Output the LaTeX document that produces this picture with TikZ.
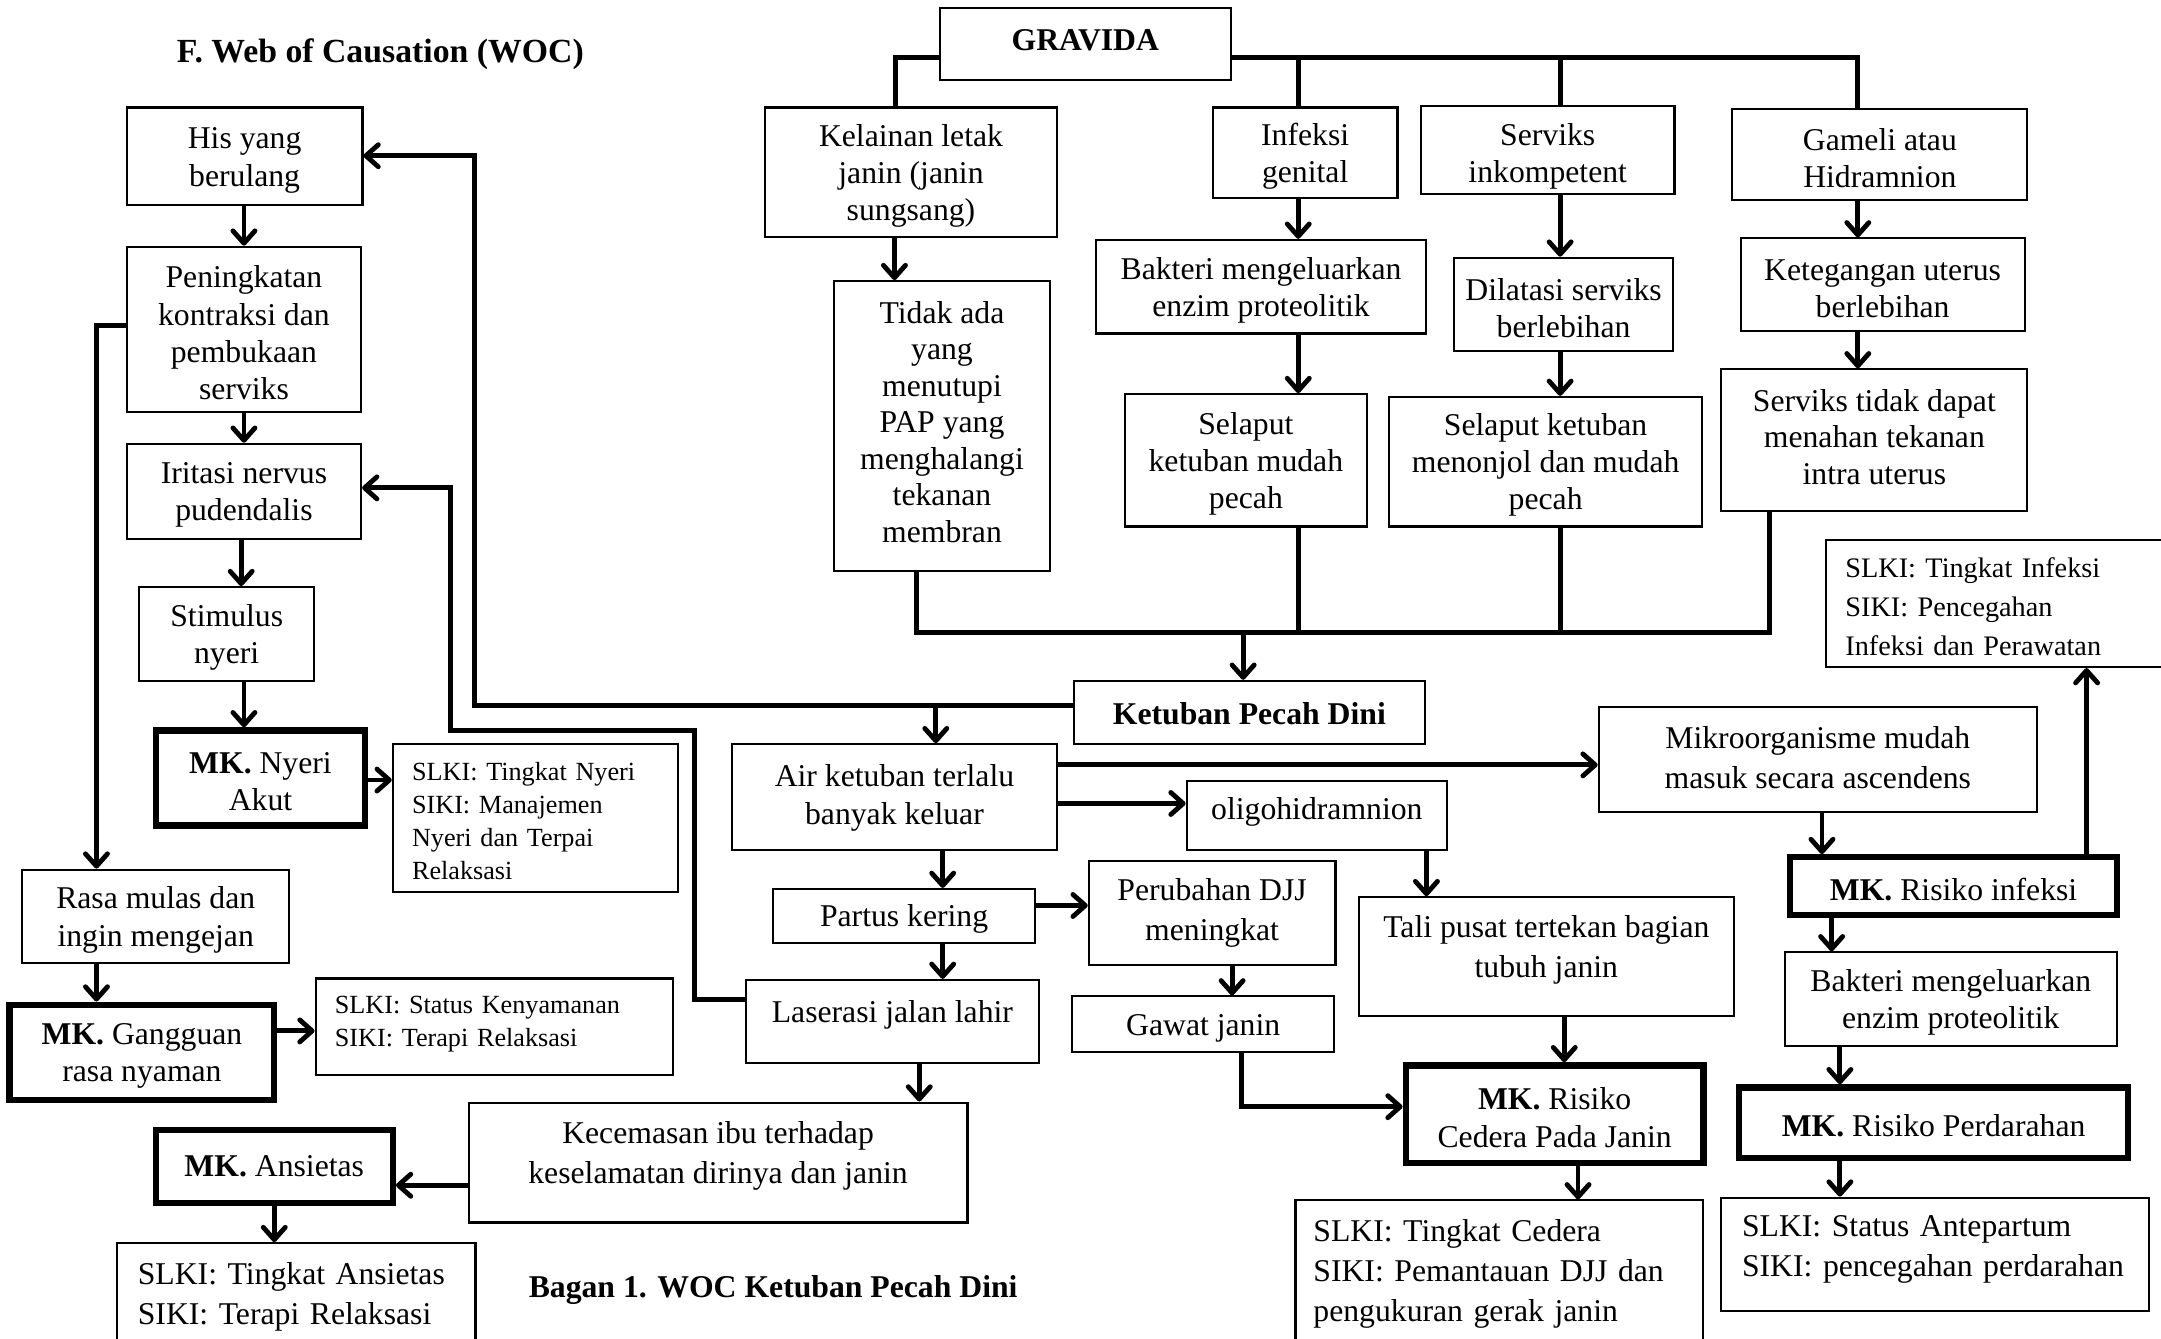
\documentclass[tikz,border=0pt]{standalone}
\usepackage{fontspec}
\setmainfont{Liberation Serif}
\usetikzlibrary{arrows.meta}
\newcommand{\wocbox}[7]{%
 \pgfmathsetmacro\wbw{#5-#3}%
 \pgfmathsetmacro\wbh{#6-#4}%
 \pgfmathsetmacro\wbx{(#3+#5)/2}%
 \pgfmathsetmacro\wby{(#4+#6)/2}%
 \node[#1,minimum width=\wbw pt,minimum height=\wbh pt] (#2) at (\wbx,\wby) {\rule{0pt}{0.91em}#7};}
\begin{document}
\begin{tikzpicture}[x=1pt,y=-1pt,
 box/.style={draw,line width=1.5pt,inner sep=2pt,align=center,font=\fontsize{23}{27}\selectfont,
   execute at begin node={\rule{0pt}{0.91em}}},
 tbox/.style={box,line width=4.6pt},
 lbox/.style={box,align=left},
 ln/.style={line width=3.5pt},
 arr/.style={line width=3.5pt,-{Straight Barb[length=9pt,width=16pt,round]}},
 ttl/.style={font=\fontsize{24.5}{28}\selectfont\bfseries,inner sep=0pt}]
\useasboundingbox (0,0) rectangle (1568,971);
\node[ttl] (title) at (276,39) {F. Web of Causation (WOC)};
\node[ttl,font=\fontsize{23}{27}\selectfont\bfseries] (bagan) at (561,936) {Bagan 1. WOC Ketuban Pecah Dini};
% top part
\wocbox{box}{grav}{682}{6}{893}{58}{\textbf{GRAVIDA}\rule[-11pt]{0pt}{11pt}}
\wocbox{box}{kel}{555}{78}{767}{172}{Kelainan letak\\janin (janin\\sungsang)}
\wocbox{box,font=\fontsize{23}{26.5}\selectfont}{tidak}{605}{204}{762}{414}{Tidak ada\\yang\\menutupi\\PAP yang\\menghalangi\\tekanan\\membran\rule[-11pt]{0pt}{11pt}}
\wocbox{box}{inf}{880}{78}{1014}{144}{Infeksi\\genital}
\wocbox{box}{bak1}{795}{174}{1035}{242}{Bakteri mengeluarkan\\enzim proteolitik}
\wocbox{box}{sel1}{816}{286}{992}{382}{Selaput\\ketuban mudah\\pecah}
\wocbox{box}{ser}{1031}{77}{1215}{141}{\rule{0pt}{25pt}Serviks\\inkompetent}
\wocbox{box}{dil}{1055}{187}{1214}{255}{Dilatasi serviks\\berlebihan}
\wocbox{box}{sel2}{1008}{288}{1235}{382}{Selaput ketuban\\menonjol dan mudah\\pecah}
\wocbox{box}{gam}{1257}{79}{1471}{145}{Gameli atau\\Hidramnion}
\wocbox{box}{keg}{1263}{173}{1469}{240}{Ketegangan uterus\\berlebihan}
\wocbox{box,font=\fontsize{23}{26.5}\selectfont}{stdk}{1249}{268}{1471}{371}{Serviks tidak dapat\\menahan tekanan\\intra uterus\rule[-10pt]{0pt}{10pt}}
\wocbox{lbox,font=\fontsize{20.5}{28.5}\selectfont,inner xsep=14pt,text width=232pt}{sinf}{1325}{392}{1585}{484}{SLKI: Tingkat Infeksi\\SIKI: Pencegahan\\Infeksi dan Perawatan}
\wocbox{box}{kpd}{779}{494}{1034}{540}{\textbf{Ketuban Pecah Dini}\rule[-4pt]{0pt}{4pt}}
% left column
\wocbox{box}{his}{92}{78}{263}{149}{His yang\\berulang}
\wocbox{box}{pen}{92}{179}{262}{299}{Peningkatan\\kontraksi dan\\pembukaan\\serviks}
\wocbox{box}{iri}{92}{322}{262}{391}{Iritasi nervus\\pudendalis}
\wocbox{box}{sti}{101}{426}{228}{494}{Stimulus\\nyeri}
\wocbox{tbox}{mkn}{113}{530}{265}{599}{\textbf{MK.} Nyeri\\Akut}
\wocbox{lbox,font=\fontsize{19}{24}\selectfont,inner xsep=14pt,text width=179pt}{sn}{285}{540}{492}{647}{SLKI: Tingkat Nyeri\\SIKI: Manajemen\\Nyeri dan Terpai\\Relaksasi}
\wocbox{box}{ras}{16}{631}{210}{699}{Rasa mulas dan\\ingin mengejan}
\wocbox{tbox}{mkg}{7}{729}{199}{798}{\textbf{MK.} Gangguan\\rasa nyaman}
\wocbox{lbox,font=\fontsize{19}{24}\selectfont,inner xsep=14pt,text width=231pt}{sk}{229}{710}{488}{780}{SLKI: Status Kenyamanan\\SIKI: Terapi Relaksasi\rule[-12pt]{0pt}{12pt}}
\wocbox{tbox}{mka}{113}{820}{285}{873}{\textbf{MK.} Ansietas\rule[-6pt]{0pt}{6pt}}
\wocbox{lbox,font=\fontsize{23}{29}\selectfont,inner xsep=15pt,text width=230pt}{sa}{85}{902}{345}{975}{SLKI: Tingkat Ansietas\\SIKI: Terapi Relaksasi}
\wocbox{box,font=\fontsize{23}{29}\selectfont}{kec}{340}{800}{702}{887}{Kecemasan ibu terhadap\\keselamatan dirinya dan janin\rule[-19pt]{0pt}{19pt}}
% middle lower
\wocbox{box}{air}{531}{540}{767}{617}{Air ketuban terlalu\\banyak keluar\rule[-9pt]{0pt}{9pt}}
\wocbox{box}{par}{561}{645}{751}{684}{Partus kering}
\wocbox{box}{las}{541}{711}{754}{771}{Laserasi jalan lahir\rule[-19pt]{0pt}{19pt}}
\wocbox{box}{oli}{861}{567}{1050}{617}{oligohidramnion\rule[-15pt]{0pt}{15pt}}
\wocbox{box,font=\fontsize{23}{29}\selectfont}{mik}{1160}{513}{1478}{589}{Mikroorganisme mudah\\masuk secara ascendens\rule[-8pt]{0pt}{8pt}}
\wocbox{box,font=\fontsize{23}{29}\selectfont}{per}{790}{625}{969}{700}{Perubahan DJJ\\meningkat\rule[-10pt]{0pt}{10pt}}
\wocbox{box}{gaw}{778}{723}{968}{763}{Gawat janin}
\wocbox{box,font=\fontsize{23}{29}\selectfont}{tal}{986}{651}{1258}{737}{Tali pusat tertekan bagian\\tubuh janin\rule[-20pt]{0pt}{20pt}}
\wocbox{tbox}{mkc}{1020}{773}{1236}{844}{\textbf{MK.} Risiko\\Cedera Pada Janin}
\wocbox{lbox,font=\fontsize{23}{29}\selectfont,inner xsep=13pt,text width=270pt}{sc}{940}{871}{1236}{973}{SLKI: Tingkat Cedera\\SIKI: Pemantauan DJJ dan\\pengukuran gerak janin}
\wocbox{tbox}{mki}{1299}{622}{1536}{664}{\textbf{MK.} Risiko infeksi}
\wocbox{box}{bak2}{1295}{691}{1536}{759}{Bakteri mengeluarkan\\enzim proteolitik}
\wocbox{tbox}{mkp}{1262}{789}{1544}{840}{\textbf{MK.} Risiko Perdarahan}
\wocbox{lbox,font=\fontsize{23}{29}\selectfont,inner xsep=15pt,text width=280pt}{sp}{1249}{869}{1559}{951}{SLKI: Status Antepartum\\SIKI: pencegahan perdarahan\rule[-18pt]{0pt}{18pt}}
% GRAVIDA branches
\coordinate (gL) at (650,42);
\coordinate (gR) at (1348,42);
\draw[ln] (grav.west |- gL) -- (gL) -- (kel.north -| gL);
\draw[ln] (grav.east |- gR) -- (gR) -- (gam.north -| gR);
\draw[ln] (inf.north -| 942,0) -- (942,42);
\draw[ln] (ser.north -| 1132,0) -- (1132,42);
% merge
\coordinate (mL) at (665,459);
\coordinate (mR) at (1284,459);
\draw[ln] (tidak.south -| mL) -- (mL) -- (mR) -- (stdk.south -| mR);
\draw[ln] (sel1.south -| 942,0) -- (942,459);
\draw[ln] (sel2.south -| 1132,0) -- (1132,459);
\draw[arr] (902,459) -- (kpd.north -| 902,0);
% long feedback connectors
\draw[arr] (kpd.west |- 0,512) -- (344,512) -- (344,113) -- (his.east |- 0,113);
\draw[arr] (679,512) -- (air.north -| 679,0);
\draw[arr] (las.west |- 0,725) -- (504,725) -- (504,530) -- (327,530) -- (327,354) -- (iri.east |- 0,354);
\draw[arr] (pen.west |- 0,236) -- (70,236) -- (ras.north -| 70,0);
% verticals
\draw[arr] (his.south -| 177,0) -- (pen.north -| 177,0);
\draw[arr] (pen.south -| 177,0) -- (iri.north -| 177,0);
\draw[arr] (iri.south -| 175,0) -- (sti.north -| 175,0);
\draw[arr] (sti.south -| 177,0) -- (mkn.north -| 177,0);
\draw[arr] (ras.south -| 70,0) -- (mkg.north -| 70,0);
\draw[arr] (mka.south -| 199,0) -- (sa.north -| 199,0);
\draw[arr] (kel.south -| 649,0) -- (tidak.north -| 649,0);
\draw[arr] (inf.south -| 942,0) -- (bak1.north -| 942,0);
\draw[arr] (bak1.south -| 942,0) -- (sel1.north -| 942,0);
\draw[arr] (ser.south -| 1132,0) -- (dil.north -| 1132,0);
\draw[arr] (dil.south -| 1132,0) -- (sel2.north -| 1132,0);
\draw[arr] (gam.south -| 1348,0) -- (keg.north -| 1348,0);
\draw[arr] (keg.south -| 1348,0) -- (stdk.north -| 1348,0);
\draw[arr] (air.south -| 684,0) -- (par.north -| 684,0);
\draw[arr] (par.south -| 684,0) -- (las.north -| 684,0);
\draw[arr] (las.south -| 667,0) -- (kec.north -| 667,0);
\draw[arr] (per.south -| 894,0) -- (gaw.north -| 894,0);
\draw[arr] (oli.south -| 1035,0) -- (tal.north -| 1035,0);
\draw[arr] (tal.south -| 1135,0) -- (mkc.north -| 1135,0);
\draw[arr] (mkc.south -| 1145,0) -- (sc.north -| 1145,0);
\draw[arr] (mik.south -| 1322,0) -- (mki.north -| 1322,0);
\draw[arr] (mki.south -| 1329,0) -- (bak2.north -| 1329,0);
\draw[arr] (bak2.south -| 1335,0) -- (mkp.north -| 1335,0);
\draw[arr] (mkp.south -| 1335,0) -- (sp.north -| 1335,0);
\draw[arr] (mki.north -| 1514,0) -- (sinf.south -| 1514,0);
% horizontals
\draw[arr] (mkn.east |- 0,566) -- (sn.west |- 0,566);
\draw[arr] (mkg.east |- 0,748) -- (sk.west |- 0,748);
\draw[arr] (kec.west |- 0,860) -- (mka.east |- 0,860);
\draw[arr] (par.east |- 0,657) -- (per.west |- 0,657);
\draw[arr] (air.east |- 0,583) -- (oli.west |- 0,583);
\draw[arr] (air.east |- 0,555) -- (mik.west |- 0,555);
\draw[arr] (gaw.south -| 901,0) |- (mkc.west |- 0,803);
\end{tikzpicture}
\end{document}
